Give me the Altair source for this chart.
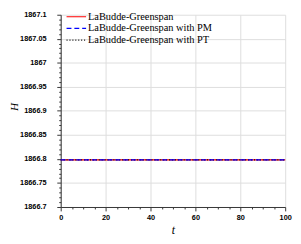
import altair as alt
import pandas as pd

series_names = ["LaBudde-Greenspan", "LaBudde-Greenspan with PM", "LaBudde-Greenspan with PT"]
series_colors = ["#ff0000", "#0000ff", "#000000"]
series_dashes = [[1, 0], [5, 3], [1, 2]]
series_widths = [1.1, 1.1, 0.8]
draw_order = ["LaBudde-Greenspan", "LaBudde-Greenspan with PT", "LaBudde-Greenspan with PM"]
t_values = [0, 100]
H_labudde = [1866.798, 1866.798]
H_pm = [1866.798, 1866.798]
H_pt = [1866.798, 1866.798]

y_ticks = [round(1866.7 + 0.01 * i, 2) for i in range(41)]
x_ticks = list(range(0, 101, 5))

rows = []
for name, hs in zip(series_names, [H_labudde, H_pm, H_pt]):
    for t, h in zip(t_values, hs):
        rows.append({"series": name, "t": t, "H": h})
df = pd.DataFrame(rows)

major_y = "abs(datum.value*20 - round(datum.value*20)) < 0.001"
major_x = "abs(datum.value/20 - round(datum.value/20)) < 0.001"

legend_opts = dict(title=None, orient="none", legendX=10, legendY=-4,
                   symbolType="M-2,0H2", symbolSize=100, symbolStrokeWidth=1.2,
                   labelFont="Liberation Serif", labelFontSize=10.6, labelColor="#000",
                   labelOffset=6, rowPadding=-4, labelLimit=300)

base = alt.Chart(df).mark_line().encode(
    x=alt.X("t:Q", scale=alt.Scale(domain=[0, 100], nice=False),
            axis=alt.Axis(values=x_ticks, title="t",
                          labelExpr=f"({major_x}) ? datum.label : ''",
                          tickSize={"condition": {"test": major_x, "value": 4}, "value": 2},
                          gridOpacity={"condition": {"test": major_x, "value": 1}, "value": 0},
                          labelOverlap=False, labelFlush=False, labelPadding=3,
                          titleY=23, titleBaseline="middle")),
    y=alt.Y("H:Q", scale=alt.Scale(domain=[1866.7, 1867.1], nice=False, zero=False),
            axis=alt.Axis(values=y_ticks, title="H",
                          labelExpr=f"({major_y}) ? format(datum.value, '~f') : ''",
                          tickSize={"condition": {"test": major_y, "value": 4}, "value": 2},
                          gridOpacity={"condition": {"test": major_y, "value": 1}, "value": 0},
                          labelOverlap=False, labelFlush=False, labelPadding=11,
                          titleX=-47, titleY=94, titleAngle=-90, titleFontSize=11.5,
                          titleAlign="center", titleBaseline="middle")),
    color=alt.Color("series:N", scale=alt.Scale(domain=series_names, range=series_colors),
                    legend=alt.Legend(**legend_opts)),
    strokeDash=alt.StrokeDash("series:N", scale=alt.Scale(domain=series_names, range=series_dashes),
                              legend=alt.Legend(**legend_opts)),
    strokeWidth=alt.StrokeWidth("series:N", scale=alt.Scale(domain=series_names, range=series_widths),
                                legend=None),
)

layers = [base.transform_filter(alt.datum.series == n) for n in draw_order]

chart = alt.layer(*layers).properties(
    width=230, height=197,
    autosize=alt.AutoSizeParams(type="none"),
    padding={"left": 54, "top": 4, "right": 8, "bottom": 35},
).configure_view(strokeWidth=0).configure_axis(
    labelFont="Liberation Sans", labelFontSize=7.5, labelFontWeight="bold", labelColor="#000",
    titleFont="Liberation Serif", titleFontStyle="italic", titleFontWeight="normal",
    titleFontSize=12, titleColor="#000",
    gridColor="#dddddd", gridWidth=1, domainColor="#333", tickColor="#333",
    domainWidth=1, tickWidth=1,
)

chart.save("out.html", embed_options={"renderer": "svg", "actions": False})
